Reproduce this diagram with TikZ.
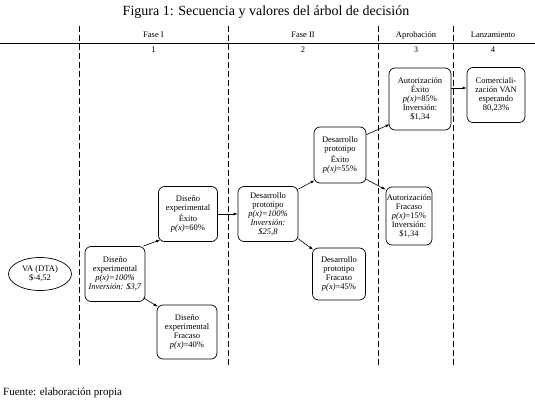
\documentclass[tikz,border=0pt]{standalone}
\usepackage{fontspec}
\setmainfont{Liberation Serif}
\usetikzlibrary{shapes.geometric,arrows.meta,calc}
\tikzset{
  box/.style={draw, rounded corners=6pt, line width=0.7pt, align=center,
    font=\fontsize{8.5}{9}\selectfont, inner sep=0.5pt},
  arr/.style={-{Latex[length=4pt,width=3pt]}, line width=0.6pt},
  phase/.style={dash pattern=on 6pt off 3pt, line width=0.7pt},
  hdr/.style={font=\fontsize{8.5}{9}\selectfont, inner sep=0pt}
}
\begin{document}
\begin{tikzpicture}[x=1pt,y=-1pt]
\useasboundingbox (0,0) rectangle (535,403);
% title
\node[font=\fontsize{14}{16}\selectfont, inner sep=0pt] (title) at (266,12) {Figura 1: Secuencia y valores del árbol de decisión};
% header line
\coordinate (hl) at (0,43);
\coordinate (hr) at (535,43);
\draw[line width=0.7pt] (hl) -- (hr);
% phase separators
\foreach \x [count=\i] in {79,228,378,453}{
  \coordinate (t\i) at (\x,26);
  \coordinate (b\i) at (\x,367);
  \draw[phase] (t\i) -- (b\i);
}
\node[hdr] (f1) at (153.5,35) {Fase I};
\node[hdr] (f2) at (303,35) {Fase II};
\node[hdr] (f3) at (416,35) {Aprobación};
\node[hdr] (f4) at (493,35) {Lanzamiento};
\node[hdr] (n1) at (153.5,49.5) {1};
\node[hdr] (n2) at (303,49.5) {2};
\node[hdr] (n3) at (416,49.5) {3};
\node[hdr] (n4) at (493,49.5) {4};
% nodes
\node[draw, ellipse, line width=0.7pt, align=center, font=\fontsize{8.5}{9}\selectfont,
  minimum width=63pt, minimum height=33pt, inner sep=0pt] (va) at (40,274) {VA (DTA)\\\$-4,52};
\node[box, minimum width=60pt, minimum height=55pt] (d1) at (115,274)
  {Diseño\\experimental\\\textit{p(x)=100\%}\\\textit{Inversión: \$3,7}};
\node[box, minimum width=59pt, minimum height=55pt] (d1s) at (188,214)
  {Diseño\\experimental\\Éxito\\\textit{p(x)}=60\%};
\node[box, minimum width=60pt, minimum height=54pt] (d1f) at (187,332)
  {Diseño\\experimental\\Fracaso\\\textit{p(x)}=40\%};
\node[box, minimum width=60pt, minimum height=55pt] (d2) at (268,214)
  {Desarrollo\\prototipo\\\textit{p(x)=100\%}\\\textit{Inversión:}\\\textit{\$25,8}};
\node[box, minimum width=52pt, minimum height=56pt] (d2s) at (340,155)
  {Desarrollo\\prototipo\\Éxito\\\textit{p(x)}=55\%};
\node[box, minimum width=53pt, minimum height=52pt] (d2f) at (339,274)
  {Desarrollo\\prototipo\\Fracaso\\\textit{p(x)}=45\%};
\node[box, minimum width=62pt, minimum height=62pt] (a3s) at (420,99)
  {Autorización\\Éxito\\\textit{p(x)}=85\%\\Inversión:\\\$1,34};
\node[box, minimum width=46pt, minimum height=58pt] (a3f) at (409,216)
  {Autorización\\Fracaso\\\textit{p(x)}=15\%\\Inversión:\\\$1,34};
\node[box, minimum width=58pt, minimum height=55pt] (c4) at (496,95)
  {Comerciali-\\zación VAN\\esperando\\80,23\%};
% connectors
\draw[arr] ([shift={(-2,0)}]d1.north east) -- ([shift={(2,-2)}]d1s.south west);
\draw[arr] ([shift={(-2,-4)}]d1.south east) -- ([shift={(1,2)}]d1f.north west);
\draw[arr] (d1s.east) -- (d2.west);
\draw[arr] ([shift={(0,3)}]d2.north east) -- ([shift={(1,-3)}]d2s.south west);
\draw[arr] ([shift={(0,-3)}]d2.south east) -- ([shift={(1,2)}]d2f.north west);
\draw[arr] ([shift={(0,8)}]d2s.north east) -- ([shift={(1,-6)}]a3s.south west);
\draw[arr] ([shift={(0,-4)}]d2s.south east) -- ([shift={(0,3)}]a3f.north west);
\draw[arr] ([yshift=11pt]a3s.east) -- ([yshift=7pt]c4.west);
% source
\node[font=\fontsize{11}{13}\selectfont, anchor=west, inner sep=0pt] (src) at (3,393) {Fuente: elaboración propia};
\end{tikzpicture}
\end{document}
